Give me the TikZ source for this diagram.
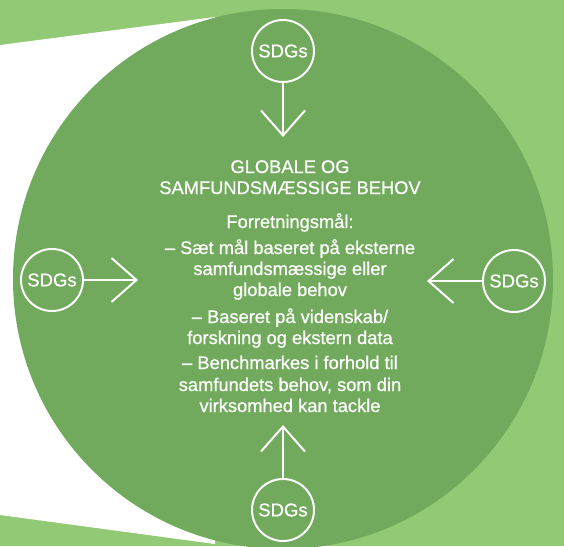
\documentclass[tikz,border=0pt]{standalone}
\usepackage{fontspec}
\setmainfont{Liberation Sans}[RawFeature={embolden=0.7}]
\usetikzlibrary{arrows.meta}
\definecolor{lysgroen}{RGB}{146,201,116}
\definecolor{moerkgroen}{RGB}{113,170,92}

\begin{document}
\begin{tikzpicture}[x=1pt,y=-1pt,
    sdg/.style={circle,draw=white,line width=2pt,minimum size=62pt,inner sep=0pt,text=white,font=\fontsize{18.5}{20}\selectfont},
    pil/.style={draw=white,line width=2pt,-{Straight Barb[length=25pt,width=44pt]}},
    tekst/.style={text=white,anchor=base,inner sep=0pt,font=\fontsize{18.3}{21}\selectfont}]

    % baggrund og hvid kile
    \fill[lysgroen] (0,0) rectangle (564,546);
    \useasboundingbox (0,0) rectangle (564,546);
    \fill[white] (0,45) -- (215,17) -- (215,544) -- (0,515) -- cycle;
    \fill[moerkgroen] (283,279) circle[radius=270pt];  % stor cirkel

    % SDG-cirkler med pile ind mod midten
    \foreach \navn/\xPos/\yPos/\xPil/\yPil in {top/283/51/283/137,
                                             bund/283/510/283/425,
                                             venstre/52/280/138/280,
                                             hoejre/514/281/427/281}
        {
            \node[sdg] (sdg\navn) at (\xPos,\yPos) {SDGs};
            \coordinate (pil\navn) at (\xPil,\yPil);
            \draw[pil] (sdg\navn) -- (pil\navn);
        }

    % tekst i midten, en linje ad gangen
    \foreach [count=\i] \yPos/\linje in {173/GLOBALE OG,
                                        194/SAMFUNDSMÆSSIGE BEHOV,
                                        228/Forretningsmål:,
                                        254/– Sæt mål baseret på eksterne,
                                        275/samfundsmæssige eller,
                                        296/globale behov,
                                        323/{– Baseret på videnskab/},
                                        344/forskning og ekstern data,
                                        369/– Benchmarkes i forhold til,
                                        391/{samfundets behov, som din},
                                        412/virksomhed kan tackle}
        {
            \node[tekst] (linje\i) at (290,\yPos) {\linje};
        }

\end{tikzpicture}
\end{document}
